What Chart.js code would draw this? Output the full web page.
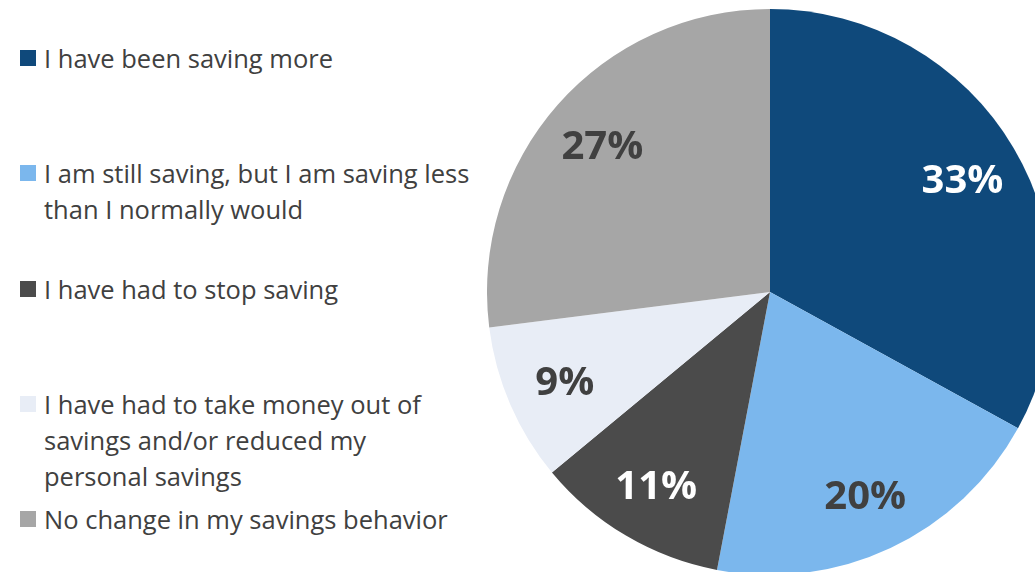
<!DOCTYPE html>
<html>
<head>
<meta charset="utf-8">
<script src="https://cdn.jsdelivr.net/npm/chart.js@4/dist/chart.umd.min.js"></script>
<style>
    html, body {
        margin: 0;
        padding: 0;
        width: 1035px;
        height: 572px;
        overflow: hidden;
        background: #ffffff;
        font-family: "Open Sans", sans-serif;
    }
    #legend {
        position: absolute;
        left: 20px;
        top: 0;
    }
    .legend-item {
        position: absolute;
        left: 0;
        white-space: nowrap;
        font-size: 25.5px;
        line-height: 36px;
        color: #404040;
    }
    .legend-box {
        position: absolute;
        left: 0;
        top: 10px;
        width: 16px;
        height: 16px;
    }
    .legend-text {
        margin-left: 24px;
    }
    #pieWrap {
        position: absolute;
        left: 487px;
        top: 9px;
    }
</style>
</head>
<body>
<div id="legend"></div>
<div id="pieWrap"><canvas id="savingsChart" width="566" height="566"></canvas></div>
<script>
    const categories = [
        ['I have been saving more'],
        ['I am still saving, but I am saving less', 'than I normally would'],
        ['I have had to stop saving'],
        ['I have had to take money out of', 'savings and/or reduced my', 'personal savings'],
        ['No change in my savings behavior']
    ];
    const shares = [33, 20, 11, 9, 27];
    const sliceColors = ['#0F497B', '#7BB7ED', '#4B4B4B', '#E8EDF6', '#A6A6A6'];
    const labelColors = ['#ffffff', '#404040', '#ffffff', '#404040', '#404040'];

    // legend on the left, one block per category
    const legend = document.getElementById('legend');
    categories.forEach(function (lines, i) {
        const item = document.createElement('div');
        item.className = 'legend-item';
        item.style.top = (40 + i * 115.3) + 'px';
        const box = document.createElement('div');
        box.className = 'legend-box';
        box.style.background = sliceColors[i];
        const text = document.createElement('div');
        text.className = 'legend-text';
        text.innerHTML = lines.join('<br>');
        item.appendChild(box);
        item.appendChild(text);
        legend.appendChild(item);
    });

    // percentage labels inside each slice
    const sliceLabels = {
        id: 'sliceLabels',
        afterDatasetsDraw: function (chart) {
            const ctx = chart.ctx;
            const meta = chart.getDatasetMeta(0);
            ctx.save();
            ctx.font = 'bold 40px "Open Sans", sans-serif';
            ctx.textAlign = 'center';
            ctx.textBaseline = 'middle';
            meta.data.forEach(function (arc, i) {
                const mid = (arc.startAngle + arc.endAngle) / 2;
                const r = arc.outerRadius * 0.79;
                const x = arc.x + Math.cos(mid) * r;
                const y = arc.y + Math.sin(mid) * r + 3;
                ctx.fillStyle = labelColors[i];
                ctx.fillText(shares[i] + '%', x, y);
            });
            ctx.restore();
        }
    };

    new Chart(document.getElementById('savingsChart').getContext('2d'), {
        type: 'pie',
        data: {
            labels: categories.map(function (l) { return l.join(' '); }),
            datasets: [{
                data: shares,
                backgroundColor: sliceColors,
                borderWidth: 0
            }]
        },
        options: {
            responsive: false,
            animation: false,
            layout: { padding: 0 },
            plugins: {
                legend: { display: false },
                tooltip: { enabled: false }
            }
        },
        plugins: [sliceLabels]
    });
</script>
</body>
</html>
